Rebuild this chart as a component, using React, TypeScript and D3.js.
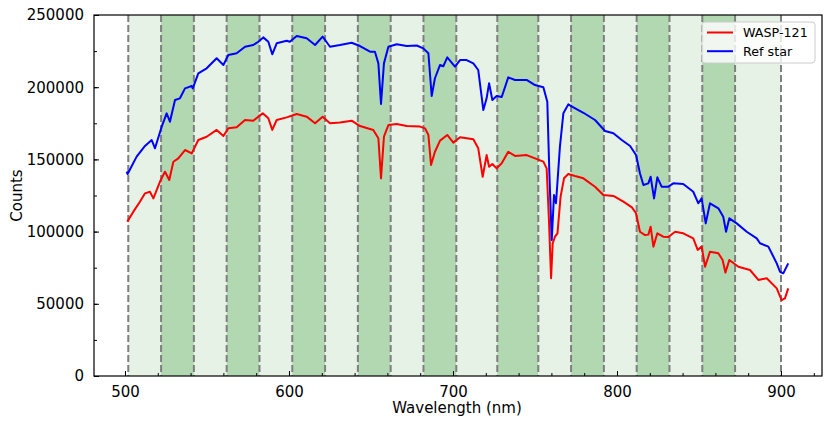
import React, { useEffect, useRef } from 'react';
import * as d3 from 'd3';

// band edges (nm) of the spectroscopic bins
const binEdges = [502, 522, 542, 562, 582, 602, 622, 642, 662, 682, 702, 727, 752, 772, 792, 812, 832, 852, 872, 900];

const xTicks = [500, 600, 700, 800, 900];
const yTicks = [0, 50000, 100000, 150000, 200000, 250000];

// WASP-121 spectrum [wavelength nm, counts]
const waspSpectrum: [number, number][] = [
  [501.4, 106900], [505.1, 113800], [509.1, 120700], [512.2, 126500], [515.2, 127600], [517.3, 123000],
  [521.3, 134500], [524.4, 141500], [527.0, 135700], [529.5, 148400], [532.5, 150700], [536.6, 156500],
  [540.7, 154200], [544.7, 163400], [549.8, 165700], [555.9, 170400], [560.0, 166200], [563.0, 171500],
  [568.1, 172200], [573.2, 177300], [578.2, 176800], [581.3, 179600], [584.0, 181900], [587.4, 178500],
  [589.8, 170400], [592.5, 177300], [598.6, 179100], [604.7, 181400], [610.8, 179600], [615.9, 175000],
  [620.5, 179600], [625.0, 175000], [631.1, 175500], [638.2, 176800], [643.3, 173100], [651.4, 170400],
  [654.5, 164600], [656.1, 136900], [657.9, 165700], [660.6, 173800], [665.7, 174500], [671.8, 173100],
  [679.9, 172700], [683.0, 171500], [685.0, 166900], [686.6, 146100], [689.0, 155300], [692.1, 163000],
  [696.5, 166900], [700.2, 161600], [704.3, 165300], [712.4, 163900], [715.4, 157700], [718.1, 138000],
  [720.5, 153000], [722.0, 144900], [724.0, 146800], [726.6, 143800], [729.7, 147300], [733.7, 155300],
  [737.8, 152400], [744.9, 153000], [750.0, 150700], [755.1, 148500], [757.1, 143800], [758.5, 108000],
  [759.8, 67700], [760.8, 91900], [762.2, 96500], [763.7, 98800], [765.6, 124200], [767.7, 136900],
  [770.3, 139900], [774.4, 138500], [779.5, 136900], [786.6, 131100], [791.7, 125300], [797.8, 124700],
  [803.9, 120700], [809.1, 116800], [811.6, 112700], [814.0, 99900], [817.1, 97600], [819.1, 97900],
  [820.5, 103400], [822.2, 89600], [824.6, 98800], [828.2, 96500], [831.3, 96300], [835.4, 99900],
  [840.4, 98800], [846.5, 95300], [849.2, 87300], [851.6, 89600], [853.7, 75700], [856.7, 86100],
  [861.8, 85000], [864.4, 80300], [866.1, 71600], [868.5, 80300], [874.0, 75700], [881.1, 73400],
  [886.2, 66500], [891.3, 67700], [897.4, 60700], [900.4, 52600], [902.4, 53800], [904.4, 60700],
];

// reference star spectrum [wavelength nm, counts]
const refSpectrum: [number, number][] = [
  [501.0, 141500], [501.6, 139900], [507.1, 151900], [512.2, 159300], [516.3, 163400], [518.3, 157700],
  [522.4, 172700], [525.4, 181900], [527.4, 176100], [530.5, 191100], [533.5, 192300], [536.6, 199200],
  [540.7, 200800], [541.3, 199200], [544.7, 209600], [549.8, 213100], [555.9, 220000], [560.0, 215400],
  [563.0, 222300], [568.1, 223500], [573.2, 228000], [578.2, 229200], [581.3, 231500], [584.3, 234500],
  [587.4, 231500], [589.8, 222800], [592.5, 230400], [598.6, 232200], [600.5, 231500], [604.7, 235500],
  [610.8, 233900], [615.9, 229200], [620.5, 235000], [625.0, 228000], [631.1, 229200], [638.2, 230800],
  [643.3, 228500], [649.4, 224600], [652.4, 224600], [654.5, 216500], [656.1, 188400], [657.9, 216500],
  [660.6, 228000], [665.7, 229700], [671.8, 228500], [677.9, 228900], [681.9, 226900], [685.0, 223500],
  [687.0, 193900], [689.0, 206200], [692.1, 215400], [694.1, 214500], [696.5, 220700], [701.2, 214200],
  [704.3, 218800], [708.3, 218800], [712.4, 216500], [715.4, 211900], [718.5, 184200], [720.5, 192300],
  [722.0, 202700], [724.0, 191100], [726.6, 193900], [729.7, 193200], [733.7, 206800], [737.8, 205000],
  [744.9, 205000], [750.0, 201500], [755.1, 200000], [757.5, 190000], [758.7, 142700], [760.2, 94200],
  [761.6, 125300], [762.8, 119600], [765.2, 158800], [767.3, 181900], [770.3, 188100], [773.4, 186100],
  [779.5, 182300], [786.6, 177300], [792.7, 169700], [797.8, 168100], [802.9, 163400], [808.0, 159300],
  [811.6, 153000], [814.0, 140400], [816.1, 132300], [819.1, 133400], [820.5, 138000], [822.6, 123000],
  [824.6, 137600], [827.2, 131100], [831.3, 131100], [834.3, 133400], [840.4, 133000], [846.5, 127600],
  [849.6, 119600], [851.6, 123000], [854.1, 105700], [856.7, 119600], [861.8, 116100], [864.8, 110300],
  [866.5, 99900], [868.5, 109200], [873.0, 105700], [879.1, 99900], [885.2, 95300], [887.2, 91900],
  [892.3, 89600], [897.4, 78000], [899.4, 72200], [901.4, 71100], [904.4, 78000],
];

const seriesNames = ['WASP-121', 'Ref star'];
const seriesColors = ['#ff0000', '#0000ff'];

const App: React.FC = () => {
  const ref = useRef<SVGSVGElement | null>(null);

  useEffect(() => {
    document.body.style.margin = '0';
    const W = 831, H = 426;
    const margin = { top: 15, right: 9, bottom: 50, left: 94 };
    const font = 'DejaVu Sans, sans-serif';

    const svg = d3.select(ref.current);
    svg.selectAll('*').remove();

    const x = d3.scaleLinear().domain([481.1, 925]).range([margin.left, W - margin.right]);
    const y = d3.scaleLinear().domain([0, 250000]).range([H - margin.bottom, margin.top]);
    const [x0, x1] = x.range();
    const [yb, yt] = y.range();

    svg.append('rect').attr('width', W).attr('height', H).attr('fill', '#fff');

    // shaded bins
    const bins = d3.pairs(binEdges);
    svg.append('g')
      .selectAll('rect')
      .data(bins)
      .join('rect')
      .attr('x', d => x(d[0]))
      .attr('y', yt)
      .attr('width', d => x(d[1]) - x(d[0]))
      .attr('height', yb - yt)
      .attr('fill', (d, i) => (i % 2 === 0 ? '#e5f2e5' : '#b2d8b2'));

    // dashed bin edges
    svg.append('g')
      .selectAll('line')
      .data(binEdges)
      .join('line')
      .attr('x1', d => x(d))
      .attr('x2', d => x(d))
      .attr('y1', yt)
      .attr('y2', yb)
      .attr('stroke', '#7f7f7f')
      .attr('stroke-width', 2)
      .attr('stroke-dasharray', '7,3');

    // spectra
    const line = d3.line<[number, number]>()
      .x(d => x(d[0]))
      .y(d => y(d[1]));
    [waspSpectrum, refSpectrum].forEach((s, i) => {
      svg.append('path')
        .datum(s)
        .attr('d', line)
        .attr('fill', 'none')
        .attr('stroke', seriesColors[i])
        .attr('stroke-width', 2)
        .attr('stroke-linejoin', 'round');
    });

    // axes (ticks pointing inward)
    const xAxis = svg.append('g').attr('transform', `translate(0,${yb})`);
    xAxis.call(d3.axisBottom(x).tickValues(d3.range(500, 921, 20)).tickSize(-3).tickFormat(() => ''))
      .call(g => g.select('.domain').remove());
    xAxis.append('g').call(d3.axisBottom(x).tickValues(xTicks).tickSize(-5).tickPadding(10).tickFormat(d3.format('d')))
      .call(g => g.select('.domain').remove());
    const yAxis = svg.append('g').attr('transform', `translate(${x0},0)`);
    yAxis.call(d3.axisLeft(y).tickValues(d3.range(0, 250001, 25000)).tickSize(-3).tickFormat(() => ''))
      .call(g => g.select('.domain').remove());
    yAxis.append('g').call(d3.axisLeft(y).tickValues(yTicks).tickSize(-5).tickPadding(10).tickFormat(d3.format('d')))
      .call(g => g.select('.domain').remove());
    svg.selectAll('.tick line').attr('stroke', '#000').attr('stroke-width', 1);
    svg.selectAll('.tick text').attr('font-family', font).attr('font-size', 15).attr('fill', '#000');

    svg.append('rect')
      .attr('x', x0).attr('y', yt).attr('width', x1 - x0).attr('height', yb - yt)
      .attr('fill', 'none').attr('stroke', '#000').attr('stroke-width', 1.2);

    // axis labels
    svg.append('text')
      .attr('x', (x0 + x1) / 2 - 1)
      .attr('y', 413)
      .attr('text-anchor', 'middle')
      .attr('font-family', font)
      .attr('font-size', 15)
      .text('Wavelength (nm)');
    svg.append('text')
      .attr('transform', `translate(22,${(yt + yb) / 2}) rotate(-90)`)
      .attr('text-anchor', 'middle')
      .attr('font-family', font)
      .attr('font-size', 15)
      .text('Counts');

    // legend
    const lg = svg.append('g').attr('transform', 'translate(702,22)');
    lg.append('rect')
      .attr('width', 113).attr('height', 41).attr('rx', 3)
      .attr('fill', '#fff').attr('fill-opacity', 0.8)
      .attr('stroke', '#cccccc').attr('stroke-width', 1);
    seriesNames.forEach((name, i) => {
      const row = lg.append('g').attr('transform', `translate(0,${10.5 + i * 18.7})`);
      row.append('line').attr('x1', 5).attr('x2', 31).attr('stroke', seriesColors[i]).attr('stroke-width', 2);
      row.append('text')
        .attr('x', 41).attr('dy', '0.35em')
        .attr('font-family', font).attr('font-size', 12.7)
        .text(name);
    });
  }, []);

  return <svg ref={ref} width={831} height={426} style={{ display: 'block' }}></svg>;
};

export default App;
